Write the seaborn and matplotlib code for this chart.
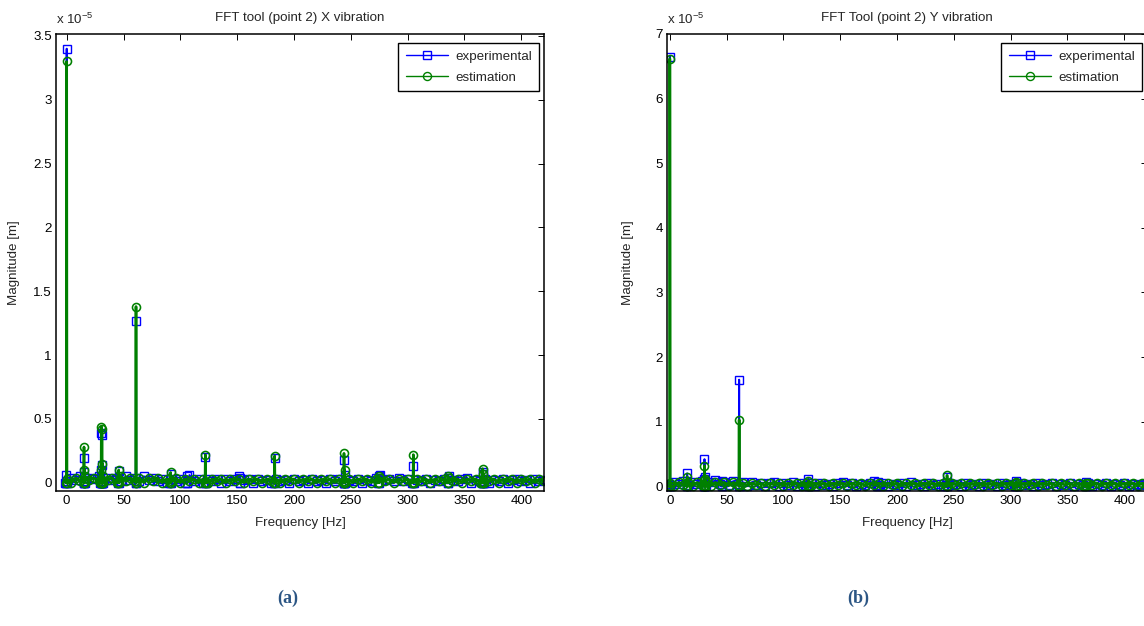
import numpy as np
import pandas as pd
import matplotlib
matplotlib.use("Agg")
import matplotlib.pyplot as plt
import seaborn as sns

# ---------------- data (magnitudes in units of 1e-5 m) ----------------
# FFT noise floor sampled on a 4 Hz grid (0 ... 420 Hz)
base_freq = np.arange(0, 424, 4)

base_exp_a = [0.01, 0.04, 0.02, 0.05, 0.01, 0.04, 0.03, 0.05, 0.01, 0.04, 0.02, 0.04, 0.01, 0.05, 0.02,
              0.04, 0.01, 0.05, 0.02, 0.04, 0.01, 0.03, 0.00, 0.03, 0.01, 0.03, 0.00, 0.06, 0.01, 0.03,
              0.00, 0.03, 0.01, 0.03, 0.00, 0.03, 0.01, 0.03, 0.05, 0.02, 0.03, 0.00, 0.03, 0.01, 0.02,
              0.00, 0.03, 0.01, 0.02, 0.00, 0.03, 0.01, 0.02, 0.00, 0.03, 0.01, 0.02, 0.00, 0.03, 0.01,
              0.03, 0.00, 0.02, 0.01, 0.03, 0.00, 0.02, 0.01, 0.04, 0.06, 0.02, 0.03, 0.01, 0.04, 0.01,
              0.03, 0.00, 0.02, 0.01, 0.03, 0.00, 0.02, 0.01, 0.03, 0.05, 0.02, 0.01, 0.03, 0.04, 0.00,
              0.02, 0.01, 0.03, 0.00, 0.02, 0.01, 0.03, 0.00, 0.02, 0.03, 0.01, 0.02, 0.00, 0.03, 0.01,
              0.02]
base_est_a = [0.03, 0.00, 0.04, 0.01, 0.05, 0.02, 0.04, 0.01, 0.05, 0.02, 0.04, 0.00, 0.05, 0.01, 0.04,
              0.01, 0.04, 0.00, 0.04, 0.01, 0.04, 0.00, 0.03, 0.01, 0.04, 0.00, 0.03, 0.01, 0.03, 0.00,
              0.03, 0.00, 0.03, 0.01, 0.03, 0.00, 0.03, 0.01, 0.03, 0.00, 0.03, 0.01, 0.03, 0.00, 0.03,
              0.01, 0.03, 0.00, 0.03, 0.01, 0.03, 0.00, 0.03, 0.01, 0.03, 0.00, 0.03, 0.01, 0.03, 0.00,
              0.03, 0.01, 0.03, 0.00, 0.03, 0.01, 0.03, 0.00, 0.03, 0.04, 0.01, 0.03, 0.00, 0.03, 0.01,
              0.03, 0.00, 0.03, 0.01, 0.03, 0.00, 0.03, 0.01, 0.03, 0.04, 0.01, 0.03, 0.00, 0.03, 0.01,
              0.03, 0.00, 0.03, 0.01, 0.03, 0.00, 0.03, 0.01, 0.03, 0.00, 0.03, 0.01, 0.03, 0.00, 0.03,
              0.01]
base_exp_b = [0.02, 0.07, 0.03, 0.08, 0.02, 0.06, 0.04, 0.08, 0.02, 0.06, 0.09, 0.03, 0.07, 0.02, 0.08,
              0.03, 0.06, 0.01, 0.06, 0.02, 0.05, 0.01, 0.05, 0.06, 0.01, 0.05, 0.02, 0.07, 0.01, 0.05,
              0.02, 0.05, 0.01, 0.05, 0.02, 0.04, 0.01, 0.05, 0.07, 0.02, 0.05, 0.01, 0.04, 0.02, 0.05,
              0.08, 0.02, 0.05, 0.01, 0.04, 0.02, 0.05, 0.01, 0.06, 0.02, 0.04, 0.01, 0.05, 0.02, 0.04,
              0.01, 0.05, 0.02, 0.04, 0.01, 0.05, 0.02, 0.04, 0.01, 0.05, 0.02, 0.04, 0.01, 0.05, 0.02,
              0.04, 0.01, 0.05, 0.02, 0.04, 0.01, 0.05, 0.02, 0.04, 0.05, 0.01, 0.04, 0.02, 0.05, 0.01,
              0.04, 0.02, 0.05, 0.01, 0.04, 0.02, 0.05, 0.01, 0.04, 0.02, 0.05, 0.01, 0.04, 0.02, 0.04,
              0.02]
base_est_b = [0.05, 0.01, 0.06, 0.02, 0.07, 0.01, 0.06, 0.02, 0.07, 0.01, 0.06, 0.02, 0.06, 0.01, 0.06,
              0.02, 0.05, 0.01, 0.05, 0.02, 0.05, 0.01, 0.05, 0.02, 0.05, 0.01, 0.05, 0.02, 0.05, 0.01,
              0.05, 0.01, 0.05, 0.02, 0.05, 0.01, 0.05, 0.02, 0.05, 0.01, 0.05, 0.02, 0.05, 0.01, 0.05,
              0.02, 0.05, 0.01, 0.05, 0.02, 0.05, 0.01, 0.05, 0.02, 0.05, 0.01, 0.05, 0.02, 0.05, 0.01,
              0.05, 0.01, 0.05, 0.02, 0.05, 0.01, 0.05, 0.02, 0.05, 0.01, 0.05, 0.02, 0.05, 0.01, 0.05,
              0.02, 0.05, 0.01, 0.05, 0.02, 0.05, 0.01, 0.05, 0.02, 0.05, 0.01, 0.05, 0.02, 0.05, 0.01,
              0.05, 0.01, 0.05, 0.02, 0.05, 0.01, 0.05, 0.02, 0.05, 0.01, 0.05, 0.02, 0.05, 0.01, 0.05,
              0.02]

# spectral peaks (frequency in Hz, magnitude in 1e-5 m)
peak_f_exp_a = [-0.8, 0.0, 15.25, 15.6, 30.0, 30.5, 31.0, 31.5, 45.75, 61.0, 91.5, 106.0,
                122.0, 152.5, 183.0, 244.0, 244.6, 274.5, 305.0, 335.5, 366.0, 366.6]
peak_v_exp_a = [0.06, 3.40, 0.19, 0.08, 0.10, 0.39, 0.37, 0.14, 0.09, 1.27, 0.07, 0.05,
                0.20, 0.04, 0.19, 0.18, 0.06, 0.05, 0.13, 0.04, 0.08, 0.07]
peak_f_est_a = [0.0, 15.25, 15.6, 30.0, 30.5, 31.0, 31.5, 45.75, 61.0, 91.5, 122.0, 183.0,
                244.0, 244.6, 274.5, 305.0, 335.5, 366.0, 366.6]
peak_v_est_a = [3.30, 0.28, 0.10, 0.10, 0.44, 0.42, 0.15, 0.10, 1.38, 0.08, 0.22, 0.21,
                0.23, 0.10, 0.05, 0.22, 0.05, 0.11, 0.07]

peak_f_exp_b = [-0.8, 0.0, 15.25, 30.0, 30.5, 31.0, 45.75, 61.0, 122.0, 183.0, 244.0, 305.0, 366.0]
peak_v_exp_b = [0.04, 6.65, 0.20, 0.12, 0.42, 0.15, 0.08, 1.65, 0.12, 0.06, 0.15, 0.08, 0.06]
peak_f_est_b = [0.0, 15.25, 30.0, 30.5, 31.0, 61.0, 122.0, 244.0, 305.0, 366.0]
peak_v_est_b = [6.62, 0.15, 0.10, 0.32, 0.12, 1.03, 0.08, 0.17, 0.07, 0.05]

titles = ["FFT tool (point 2) X vibration", "FFT Tool (point 2) Y vibration"]
series_names = ["experimental", "estimation"]
panel_tags = ["(a)", "(b)"]
xticks = [0, 50, 100, 150, 200, 250, 300, 350, 400]
yticks_a = [0, 0.5, 1, 1.5, 2, 2.5, 3, 3.5]
yticks_b = [0, 1, 2, 3, 4, 5, 6, 7]


def spectrum(base_vals, pf, pv, half_bin=0.25):
    """merge the noise floor with the peak bins (neighbour bins sit at the floor)"""
    f = list(base_freq)
    v = list(base_vals)
    for fi, vi in zip(pf, pv):
        f += [fi - half_bin, fi, fi + half_bin]
        v += [0.0, vi, 0.0]
    df = pd.DataFrame({"freq": f, "mag": v}).sort_values("freq", kind="stable")
    return df


# ---------------- figure ----------------
sns.set_theme(style="white")
plt.rcParams["font.family"] = ["Liberation Sans", "DejaVu Sans"]
plt.rcParams["mathtext.fontset"] = "custom"
plt.rcParams["mathtext.rm"] = "Liberation Sans"

W, H = 1144, 626
fig = plt.figure(figsize=(W / 100, H / 100), dpi=100)
ax_a = fig.add_axes([56 / W, 1 - 491 / H, 488 / W, 457 / H])
ax_b = fig.add_axes([667 / W, 1 - 491 / H, 480 / W, 457 / H])

blue = "#0000FF"
green = "#008000"
fs = 9.6

panels = [
    (ax_a, base_exp_a, peak_f_exp_a, peak_v_exp_a, base_est_a, peak_f_est_a, peak_v_est_a,
     (-9.4, 420), (-0.065, 3.515), yticks_a, 20, 488),
    (ax_b, base_exp_b, peak_f_exp_b, peak_v_exp_b, base_est_b, peak_f_est_b, peak_v_est_b,
     (-2.5, 420), (-0.073, 7.0), yticks_b, 634, 480),
]

for i, (ax, be, pfe, pve, bs, pfs, pvs, xl, yl, yt, ylab_x, wpx) in enumerate(panels):
    d_exp = spectrum(be, pfe, pve)
    d_est = spectrum(bs, pfs, pvs)
    sns.lineplot(data=d_exp, x="freq", y="mag", ax=ax, sort=False, estimator=None,
                 color=blue, lw=1.4, marker="s", markersize=5.6, markerfacecolor="none",
                 markeredgecolor=blue, markeredgewidth=1.0, label=series_names[0])
    sns.lineplot(data=d_est, x="freq", y="mag", ax=ax, sort=False, estimator=None,
                 color=green, lw=1.9, marker="o", markersize=5.8, markerfacecolor="none",
                 markeredgecolor=green, markeredgewidth=1.15, label=series_names[1])
    ax.set_xlim(*xl)
    ax.set_ylim(*yl)
    ax.set_xticks(xticks)
    ax.set_yticks(yt)
    ax.set_yticklabels([("%g" % t) for t in yt])
    ax.tick_params(direction="in", top=True, right=True, length=4, width=0.7,
                   labelsize=fs, pad=3, colors="black")
    for s in ax.spines.values():
        s.set_color("black")
        s.set_linewidth(1.1)
    ax.set_xlabel("Frequency [Hz]", fontsize=fs)
    ax.set_ylabel("Magnitude [m]", fontsize=fs)
    x0 = 56 if i == 0 else 667
    ax.yaxis.set_label_coords((ylab_x - x0) / wpx, 0.5)
    ax.xaxis.set_label_coords(0.5, (491 - 517) / 457)
    ax.set_title(titles[i], fontsize=fs, pad=9.5)
    ax.text(0.0, 1.015, r"x 10$^{-5}$", transform=ax.transAxes, fontsize=fs,
            ha="left", va="bottom")
    leg = ax.legend(loc="upper right", bbox_to_anchor=(1 - 5 / wpx, 1 - 9 / 457),
                    fontsize=fs, frameon=True, fancybox=False,
                    edgecolor="black", framealpha=1, handlelength=3.2, borderaxespad=0.0,
                    labelspacing=0.65, borderpad=0.55, handletextpad=0.5)
    leg.get_frame().set_linewidth(1.0)
    for h in leg.get_lines():
        h.set_linewidth(1.0)
        h.set_markeredgewidth(1.0)

fig.text(288 / W, 1 - 598 / H, panel_tags[0], fontsize=13, fontweight="bold",
         family="Liberation Serif", color="#2B5584", ha="center", va="center")
fig.text(858 / W, 1 - 598 / H, panel_tags[1], fontsize=13, fontweight="bold",
         family="Liberation Serif", color="#2B5584", ha="center", va="center")

fig.savefig("out.png", dpi=100, facecolor="white")
